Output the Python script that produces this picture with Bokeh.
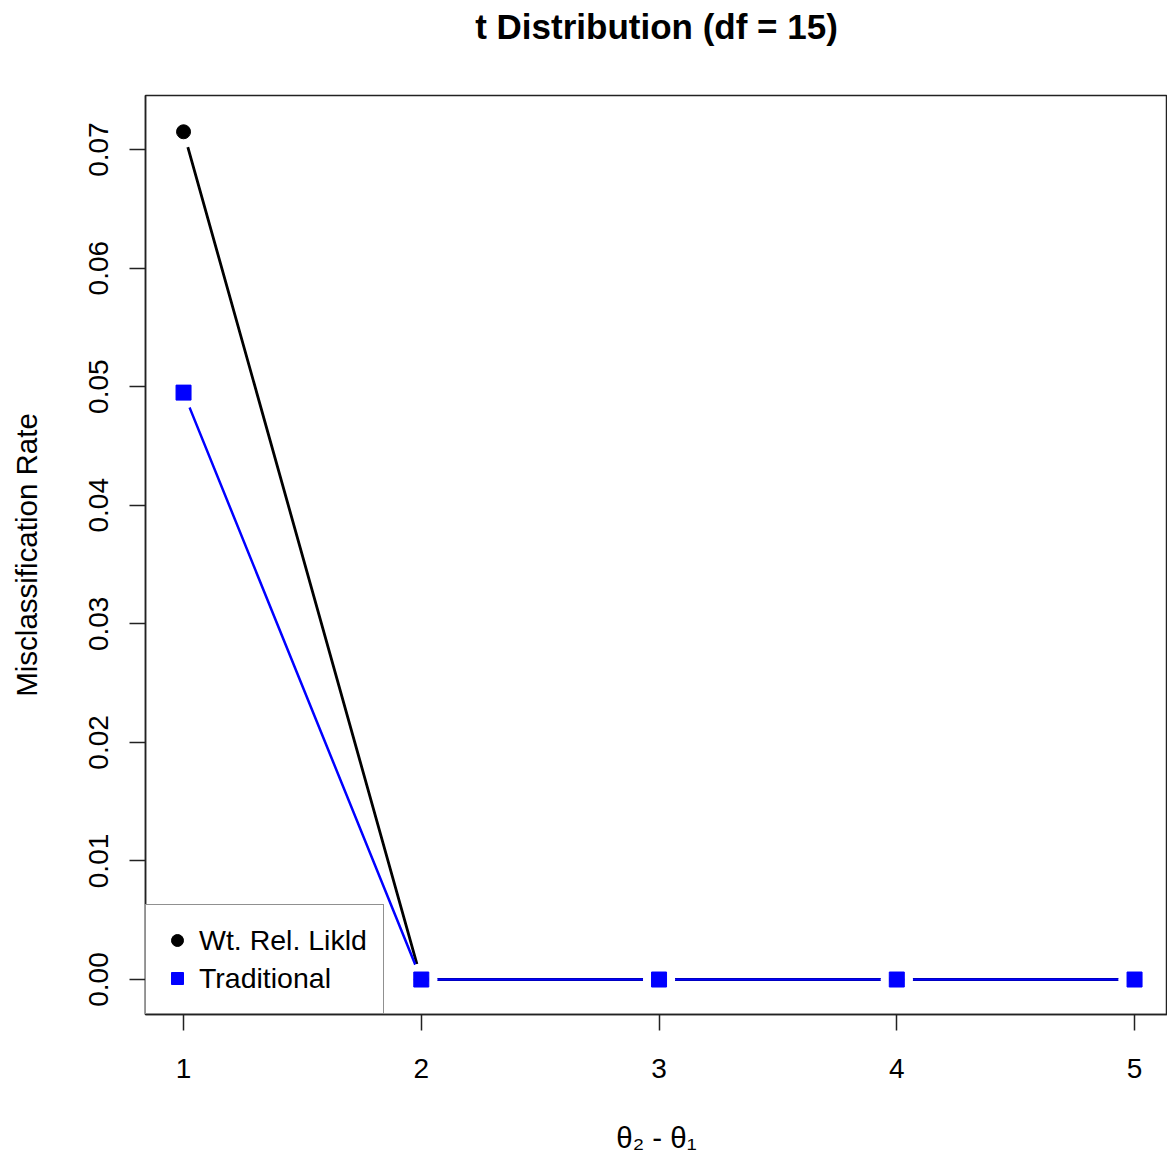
from bokeh.plotting import figure
from bokeh.models import Range1d, FixedTicker, PrintfTickFormatter, Legend, LegendItem, Title
from bokeh.embed import file_html
from bokeh.resources import INLINE

# ---- data ----
x_vals = [1, 2, 3, 4, 5]
wt_vals = [0.0715, 0.0, 0.0, 0.0, 0.0]
trad_vals = [0.0495, 0.0, 0.0, 0.0, 0.0]
x_ticks = [1, 2, 3, 4, 5]
y_ticks = [0.00, 0.01, 0.02, 0.03, 0.04, 0.05, 0.06, 0.07]
series_names = ["Wt. Rel. Likld", "Traditional"]
title_text = "t Distribution (df = 15)"
x_label = "θ₂ - θ₁"
y_label = "Misclassification Rate"

FONT = "Liberation Sans"

p = figure(width=1167, height=1156, output_backend="svg", toolbar_location=None,
           x_range=Range1d(0.84, 5.1386), y_range=Range1d(-0.00295, 0.07456),
           min_border_left=145, min_border_right=0, min_border_top=95, min_border_bottom=141,
           title=title_text)
p.background_fill_color = "white"
p.border_fill_color = "white"
p.grid.visible = False
p.outline_line_color = "#222222"
p.outline_line_width = 1.5

p.title.align = "center"
p.title.vertical_align = "top"
p.title.text_font = FONT
p.title.text_font_size = "35px"
p.title.text_font_style = "bold"
p.title.text_color = "black"
p.title.standoff = 10

# blank spacer between the frame and the title
spacer = Title(text=" ", text_font_size="1px", standoff=40)
p.add_layout(spacer, "above")

for ax in (p.xaxis[0], p.yaxis[0]):
    ax.axis_line_color = "#222222"
    ax.axis_line_width = 1.5
    ax.major_tick_line_color = "#222222"
    ax.major_tick_line_width = 1.5
    ax.major_tick_out = 16
    ax.major_tick_in = 0
    ax.minor_tick_line_color = None
    ax.major_label_text_font = FONT
    ax.major_label_text_font_size = "28px"
    ax.major_label_text_color = "black"
    ax.axis_label_text_font = FONT
    ax.axis_label_text_font_size = "29.5px"
    ax.axis_label_text_font_style = "normal"
    ax.axis_label_text_color = "black"

p.xaxis[0].ticker = FixedTicker(ticks=x_ticks)
p.xaxis[0].axis_label = x_label
p.xaxis[0].major_label_standoff = 28
p.xaxis[0].axis_label_standoff = 40

p.yaxis[0].ticker = FixedTicker(ticks=y_ticks)
p.yaxis[0].formatter = PrintfTickFormatter(format="%.2f")
p.yaxis[0].major_label_orientation = "vertical"
p.yaxis[0].axis_label = y_label
p.yaxis[0].major_label_standoff = 21
p.yaxis[0].axis_label_standoff = 44

# lines
p.line(x_vals, wt_vals, line_color="black", line_width=2.8)
p.line(x_vals, trad_vals, line_color="blue", line_width=2.5)
# gaps around points (type = "b")
p.scatter(x_vals, wt_vals, marker="circle", size=32, fill_color="white", line_color=None)
p.scatter(x_vals, trad_vals, marker="circle", size=32, fill_color="white", line_color=None)
# points
r_wt = p.scatter(x_vals, wt_vals, marker="circle", size=14, fill_color="black", line_color="black")
r_tr = p.scatter(x_vals, trad_vals, marker="square", size=15, fill_color="blue", line_color="blue")

legend = Legend(items=[LegendItem(label=series_names[0], renderers=[r_wt]),
                       LegendItem(label=series_names[1], renderers=[r_tr])],
                location="bottom_left", margin=0, padding=16, spacing=0,
                glyph_width=30, glyph_height=30, label_height=38, label_standoff=7,
                label_text_font=FONT, label_text_font_size="28.5px", label_text_color="black",
                border_line_color="#222222", border_line_width=1.5,
                background_fill_color="white", background_fill_alpha=1.0)
p.add_layout(legend, "center")

open("out.html", "w").write(file_html(p, INLINE))
